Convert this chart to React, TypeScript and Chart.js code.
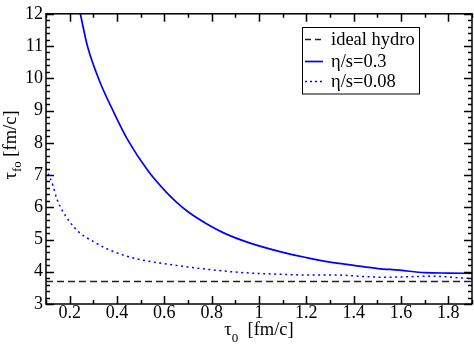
import { useEffect, useRef } from 'react';
import { Chart, registerables } from 'chart.js';

Chart.register(...registerables);

// ---- data ----
const idealX = [0.1, 1.9];
const idealY = [3.7, 3.7];

const visc03X = [0.245, 0.275, 0.327, 0.386, 0.446, 0.531, 0.609, 0.651, 0.7, 0.778, 0.855, 0.953, 1.101, 1.2, 1.3, 1.4, 1.503, 1.594, 1.7, 1.8, 1.9];
const visc03Y = [12, 11, 9.9, 8.95, 8.08, 7.13, 6.46, 6.16, 5.86, 5.49, 5.19, 4.91, 4.6, 4.44, 4.3, 4.2, 4.1, 4.05, 3.97, 3.96, 3.95];

const visc008X = [0.1, 0.13, 0.144, 0.165, 0.2, 0.242, 0.299, 0.355, 0.425, 0.496, 0.637, 0.778, 0.918, 1.059, 1.2, 1.312, 1.524, 1.735, 1.89, 1.9];
const visc008Y = [7.2, 6.66, 6.3, 5.95, 5.55, 5.21, 4.94, 4.72, 4.52, 4.38, 4.21, 4.08, 3.98, 3.93, 3.9, 3.9, 3.83, 3.86, 3.8, 3.8];

const xTickValues = [0.2, 0.4, 0.6, 0.8, 1.0, 1.2, 1.4, 1.6, 1.8];
const xTickLabels = ['0.2', '0.4', '0.6', '0.8', '1', '1.2', '1.4', '1.6', '1.8'];
const yTickValues = [3, 4, 5, 6, 7, 8, 9, 10, 11, 12];
const yTickLabels = ['3', '4', '5', '6', '7', '8', '9', '10', '11', '12'];

const legendLabels = ['ideal hydro', 'η/s=0.3', 'η/s=0.08'];
const xTitleMain = 'τ';
const xTitleSub = '0';
const xTitleUnit = '  [fm/c]';
const yTitleMain = 'τ';
const yTitleSub = 'fo';
const yTitleUnit = ' [fm/c]';

const X_MIN = 0.1;
const X_MAX = 1.9;
const Y_MIN = 3;
const Y_MAX = 12;

const FONT = '"Liberation Serif", "Times New Roman", serif';
const BLUE = '#0000ff';
const BLACK = '#000000';
const DASH_COLOR = '#222222';

const toPts = (xs: number[], ys: number[]) => xs.map((x, i) => ({ x, y: ys[i] }));

const decorPlugin = {
  id: 'decor',
  afterDraw(chart: any) {
    const ctx: CanvasRenderingContext2D = chart.ctx;
    const { left, right, top, bottom } = chart.chartArea;
    const xs = chart.scales.x;
    const ys = chart.scales.y;
    ctx.save();

    // frame
    ctx.strokeStyle = BLACK;
    ctx.lineWidth = 1.5;
    ctx.setLineDash([]);
    ctx.strokeRect(left, top, right - left, bottom - top);

    // x ticks (inward, mirrored)
    ctx.lineWidth = 1.5;
    for (let i = 1; i <= 19; i++) {
      const v = i / 10;
      const px = Math.round(xs.getPixelForValue(v)) + 0.5;
      const major = i % 2 === 0;
      const len = major ? 8 : 4;
      ctx.beginPath();
      ctx.moveTo(px, bottom);
      ctx.lineTo(px, bottom - len);
      ctx.moveTo(px, top);
      ctx.lineTo(px, top + len);
      ctx.stroke();
    }
    // y ticks
    for (let i = 0; i <= 45; i++) {
      const v = Y_MIN + i / 5;
      const py = Math.round(ys.getPixelForValue(v)) + 0.5;
      const major = i % 5 === 0;
      const len = major ? 8 : 4;
      ctx.beginPath();
      ctx.moveTo(left, py);
      ctx.lineTo(left + len, py);
      ctx.moveTo(right, py);
      ctx.lineTo(right - len, py);
      ctx.stroke();
    }

    // legend
    const lx = 302.5, ly = 27.5, lw = 117, lh = 66.5;
    ctx.fillStyle = '#ffffff';
    ctx.fillRect(lx, ly, lw, lh);
    ctx.strokeStyle = BLACK;
    ctx.lineWidth = 1;
    ctx.strokeRect(lx, ly, lw, lh);
    const rows = [39.5, 61.5, 81.5];
    const styles = [
      { color: DASH_COLOR, dash: [6, 4], w: 1.5 },
      { color: BLUE, dash: [], w: 1.7 },
      { color: BLUE, dash: [2, 3], w: 1.5 },
    ];
    ctx.font = `18.5px ${FONT}`;
    ctx.textBaseline = 'middle';
    ctx.textAlign = 'left';
    rows.forEach((ry, i) => {
      ctx.strokeStyle = styles[i].color;
      ctx.lineWidth = styles[i].w;
      ctx.setLineDash(styles[i].dash);
      ctx.beginPath();
      ctx.moveTo(305, ry);
      ctx.lineTo(323, ry);
      ctx.stroke();
      ctx.setLineDash([]);
      ctx.fillStyle = BLACK;
      ctx.fillText(legendLabels[i], 331, ry + 1);
    });

    // x title
    ctx.fillStyle = BLACK;
    ctx.textBaseline = 'alphabetic';
    const mainF = `18.5px ${FONT}`;
    const subF = `13px ${FONT}`;
    ctx.font = mainF;
    const wMain = ctx.measureText(xTitleMain).width;
    const wUnit = ctx.measureText(xTitleUnit).width;
    ctx.font = subF;
    const wSub = ctx.measureText(xTitleSub).width;
    const total = wMain + wSub + wUnit;
    let cx = (left + right) / 2 - total / 2;
    const base = 335;
    ctx.font = mainF;
    ctx.fillText(xTitleMain, cx, base);
    cx += wMain;
    ctx.font = subF;
    ctx.fillText(xTitleSub, cx, base + 7);
    cx += wSub;
    ctx.font = mainF;
    ctx.fillText(xTitleUnit, cx, base);

    // y title (rotated)
    ctx.save();
    ctx.translate(16, 145);
    ctx.rotate(-Math.PI / 2);
    ctx.font = mainF;
    const yM = ctx.measureText(yTitleMain).width;
    const yU = ctx.measureText(yTitleUnit).width;
    ctx.font = subF;
    const yS = ctx.measureText(yTitleSub).width;
    let cy = -(yM + yS + yU) / 2;
    ctx.font = mainF;
    ctx.fillText(yTitleMain, cy, 0);
    cy += yM;
    ctx.font = subF;
    ctx.fillText(yTitleSub, cy, 5);
    cy += yS;
    ctx.font = mainF;
    ctx.fillText(yTitleUnit, cy, 0);
    ctx.restore();

    ctx.restore();
  },
};

export default function App() {
  const ref = useRef<HTMLCanvasElement | null>(null);
  useEffect(() => {
    if (!ref.current) return;
    const chart = new Chart(ref.current, {
      type: 'line',
      data: {
        datasets: [
          {
            label: legendLabels[0],
            data: toPts(idealX, idealY),
            borderColor: DASH_COLOR,
            borderWidth: 1.5,
            borderDash: [7, 4],
            pointRadius: 0,
            tension: 0,
          },
          {
            label: legendLabels[1],
            data: toPts(visc03X, visc03Y),
            borderColor: BLUE,
            borderWidth: 1.7,
            pointRadius: 0,
            cubicInterpolationMode: 'monotone',
          },
          {
            label: legendLabels[2],
            data: toPts(visc008X, visc008Y),
            borderColor: BLUE,
            borderWidth: 1.5,
            borderDash: [2, 3.5],
            pointRadius: 0,
            cubicInterpolationMode: 'monotone',
          },
        ],
      },
      options: {
        animation: false,
        responsive: false,
        layout: { padding: { top: 6, right: 2, left: 0, bottom: 0 } },
        plugins: { legend: { display: false }, tooltip: { enabled: false } },
        scales: {
          x: {
            type: 'linear',
            min: X_MIN,
            max: X_MAX,
            grid: { display: false, drawTicks: false },
            border: { display: false },
            afterBuildTicks: (scale: any) => {
              scale.ticks = xTickValues.map((v) => ({ value: v }));
            },
            afterFit: (scale: any) => {
              scale.height = 42;
            },
            ticks: {
              autoSkip: false,
              maxRotation: 0,
              padding: -2,
              color: BLACK,
              font: { family: FONT, size: 18 },
              callback: (_v: any, i: number) => xTickLabels[i],
            },
          },
          y: {
            type: 'linear',
            min: Y_MIN,
            max: Y_MAX,
            grid: { display: false, drawTicks: false },
            border: { display: false },
            afterBuildTicks: (scale: any) => {
              scale.ticks = yTickValues.map((v) => ({ value: v }));
            },
            afterFit: (scale: any) => {
              scale.width = 46;
            },
            ticks: {
              autoSkip: false,
              padding: 3,
              color: BLACK,
              font: { family: FONT, size: 18 },
              callback: (_v: any, i: number) => yTickLabels[i],
            },
          },
        },
      },
      plugins: [decorPlugin],
    } as any);
    return () => chart.destroy();
  }, []);
  return (
    <div style={{ position: 'fixed', left: 0, top: 0, width: 474, height: 346, background: '#fff' }}>
      <canvas ref={ref} width={474} height={346} style={{ width: 474, height: 346 }} />
    </div>
  );
}
